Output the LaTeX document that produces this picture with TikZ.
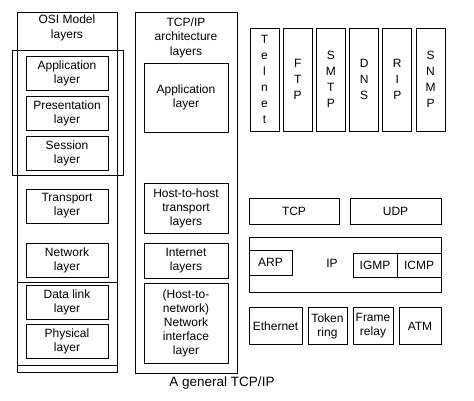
\documentclass[tikz,border=0pt]{standalone}
\usepackage{fontspec}
\setmainfont{Liberation Sans}
\usepackage{tikz}
\usetikzlibrary{positioning}
\tikzset{
  layerbox/.style = {draw=black, line width=0.9pt, align=center,
                     inner sep=1pt, font=\fontsize{12}{14}\selectfont},
}

\begin{document}
\begin{tikzpicture}[
  x=1pt, y=-1pt,
  layerbox/.style={draw=black, line width=0.9pt, align=center,
                   inner sep=1pt, font=\fontsize{12}{14}\selectfont},
  osibox/.style={layerbox, minimum width=82pt, minimum height=34pt},
  tcpbox/.style={layerbox, minimum width=84pt},
  protobox/.style={layerbox, minimum width=29pt, minimum height=103pt,
                   font=\fontsize{12}{16}\selectfont},
  linkbox/.style={layerbox, minimum height=37pt},
  frame/.style={draw=black, line width=0.9pt},
  title/.style={align=center, font=\fontsize{12}{14.5}\selectfont}
]
\useasboundingbox (0,0) rectangle (474,400);
% Left column: OSI model
\draw[frame] (17,12) rectangle (117,372);
\draw[frame] (17,282) -- (117,282);
\draw[frame] (17,365) -- (117,365);
\draw[frame] (12,50) rectangle (123,175);
\node[title] (osititle) at (67,28) {OSI Model\\layers};
\node[osibox] (osiapp)   at (67,73.5)  {Application\\layer};
\node[osibox] (osipres)  at (67,113.5) {Presentation\\layer};
\node[osibox] (osisess)  at (67,153.5) {Session\\layer};
\node[osibox] (ositrans) at (67,206)   {Transport\\layer};
\node[osibox] (osinet)   at (67,260)   {Network\\layer};
\node[osibox] (osidl)    at (67,302)   {Data link\\layer};
\node[osibox] (osiphys)  at (67,341.5) {Physical\\layer};
% Middle column: TCP/IP architecture
\draw[frame] (135,12) rectangle (237,373);
\node[title] (tcptitle) at (186,37.5) {TCP/IP\\architecture\\layers};
\node[tcpbox, minimum height=69pt] (tcpapp)  at (186,97.5) {Application\\layer};
\node[tcpbox, minimum height=50pt] (tcphost) at (186,208)  {Host-to-host\\transport\\layers};
\node[tcpbox, minimum height=35pt] (tcpinet) at (186,260.5) {Internet\\layers};
\node[tcpbox, minimum height=80pt] (tcpnil)  at (186,323)  {(Host-to-\\network)\\Network\\interface\\layer};
% Right: application protocols
\node[protobox] (telnet) at (264.5,79.5) {T\\e\\l\\n\\e\\t};
\node[protobox] (ftp)    at (297.7,79.5) {F\\T\\P};
\node[protobox] (smtp)   at (330.9,79.5) {S\\M\\T\\P};
\node[protobox] (dns)    at (364.1,79.5) {D\\N\\S};
\node[protobox] (rip)    at (397.3,79.5) {R\\I\\P};
\node[protobox] (snmp)   at (430.5,79.5) {S\\N\\M\\P};
% Transport protocols
\node[layerbox, minimum width=90pt, minimum height=26pt] (tcp) at (294,211.5) {TCP};
\node[layerbox, minimum width=91pt, minimum height=26pt] (udp) at (395.5,211.5) {UDP};
% Internet protocols
\node[layerbox, minimum width=192pt, minimum height=55pt] (ipbox) at (345,264.5) {};
\node[layerbox, minimum width=43pt, minimum height=25pt] (arp) at (270.5,262.5) {ARP};
\node[font=\fontsize{12}{14}\selectfont] (ip) at (332,263) {IP};
\node[layerbox, minimum width=44pt, minimum height=24pt] (igmp) at (375,265) {IGMP};
\node[layerbox, minimum width=44pt, minimum height=24pt] (icmp) at (419,265) {ICMP};
% Network access
\node[linkbox, minimum width=53pt] (ethernet) at (275.5,326) {Ethernet};
\node[linkbox, minimum width=39pt] (token)    at (327.5,326) {Token\\ring};
\node[linkbox, minimum width=40pt] (frelay)   at (373,326)   {Frame\\relay};
\node[linkbox, minimum width=42pt] (atm)      at (420,326)   {ATM};
% Caption
\node[font=\fontsize{13.5}{16}\selectfont] (caption) at (222,383) {A general TCP/IP};
\end{tikzpicture}
\end{document}
